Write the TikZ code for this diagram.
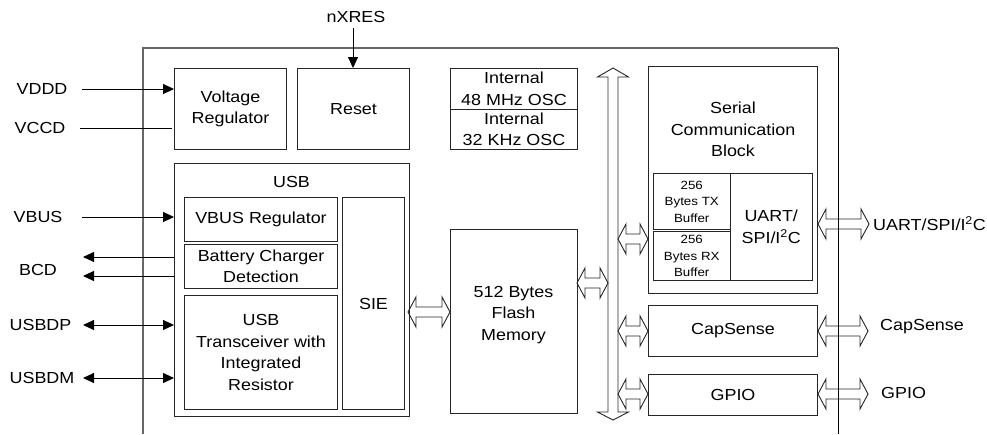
\documentclass[tikz,border=0pt]{standalone}
\usepackage{fontspec}
\setmainfont{Liberation Sans}[FakeStretch=1.12]
\usetikzlibrary{arrows.meta,calc}
\newcommand{\mainsz}{\fontsize{16}{21.5}\selectfont}
\newcommand{\smallsz}{\fontsize{11.9}{16.5}\selectfont}
% horizontal hollow double arrow between two coordinates
\newcommand{\hbusarrow}[2]{%
  \draw[hollow] let \p1=(#1), \p2=(#2) in
    (\x1,\y1) -- (\x1+8pt,\y1+15pt) -- (\x1+8pt,\y1+5pt) -- (\x2-8pt,\y2+5pt)
    -- (\x2-8pt,\y2+15pt) -- (\x2,\y2) -- (\x2-8pt,\y2-15pt) -- (\x2-8pt,\y2-5pt)
    -- (\x1+8pt,\y1-5pt) -- (\x1+8pt,\y1-15pt) -- cycle;}
\begin{document}
\begin{tikzpicture}[x=1pt,y=-1pt,
  box/.style={draw=black!85, line width=1pt, inner sep=0pt, align=center,
    anchor=north west, font=\mainsz},
  sbox/.style={box, font=\smallsz},
  txt/.style={inner sep=0pt, align=center, font=\mainsz},
  hollow/.style={draw=black!85, line width=0.9pt, line join=miter},
  sig/.style={line width=0.9pt, -{Triangle[length=11pt,width=10pt]}},
  dsig/.style={line width=0.9pt, {Triangle[length=11pt,width=10pt]}-{Triangle[length=11pt,width=10pt]}},
  lsig/.style={line width=0.9pt, {Triangle[length=11pt,width=10pt]}-},
  chip/.style={draw=black!60, line width=2pt},
]
\useasboundingbox (0,0) rectangle (987,434);

% chip outline
\coordinate (chipBL) at (143,434);
\coordinate (chipTL) at (143,48);
\coordinate (chipTR) at (838,48);
\coordinate (chipBR) at (838,434);
\draw[chip] (chipBL) -- (chipTL) -- (chipTR);
\draw[line width=0.9pt] (chipTR) -- (chipBR);

% top row
\node[box, minimum width=112pt, minimum height=81pt] (vreg) at (174,68) {Voltage\\Regulator};
\node[box, minimum width=112pt, minimum height=81pt] (reset) at (297,68) {Reset};
\node[box, minimum width=127pt, minimum height=41pt] (osc48) at (450,68) {Internal\\48 MHz OSC};
\node[box, minimum width=127pt, minimum height=40pt] (osc32) at (450,109) {Internal\\32 KHz OSC};

% USB block
\node[box, minimum width=235pt, minimum height=253pt] (usb) at (174,163) {};
\node[txt] (usblbl) at (291.5,182) {USB};
\node[box, minimum width=153pt, minimum height=44pt] (vbusreg) at (184,197) {VBUS Regulator};
\node[box, minimum width=153pt, minimum height=44pt] (bcdbox) at (184,244) {Battery Charger\\Detection};
\node[box, minimum width=153pt, minimum height=114pt] (xcvr) at (184,295) {USB\\Transceiver with\\Integrated\\Resistor};
\node[box, minimum width=62pt, minimum height=212pt] (sie) at (342,197) {SIE};

% flash
\node[box, minimum width=127pt, minimum height=184pt] (flash) at (450,229) {};
\node[txt] (flashtxt) at (513.5,315) {512 Bytes\\Flash\\Memory};

% serial communication block
\node[box, minimum width=169pt, minimum height=227pt] (scb) at (648,66) {};
\node[txt] (scbtxt) at (733,129.5) {Serial\\Communication\\Block};
\node[sbox, minimum width=76.5pt, minimum height=56pt] (txbuf) at (653,173) {256\\Bytes TX\\Buffer};
\node[sbox, minimum width=76.5pt, minimum height=49pt] (rxbuf) at (653,231) {256\\Bytes RX\\Buffer};
\node[box, minimum width=82.5pt, minimum height=107pt] (uart) at (729.5,173) {UART/\\SPI/I\textsuperscript{2}C};

\node[box, minimum width=169pt, minimum height=51pt] (caps) at (648,305) {CapSense};
\node[box, minimum width=169pt, minimum height=41pt] (gpio) at (648,374) {GPIO};

% vertical bus
\coordinate (bustop) at (613,68);
\coordinate (busbot) at (613,420);
\draw[hollow] let \p1=(bustop), \p2=(busbot) in
  (\x1,\y1) -- (\x1+15.5pt,\y1-9pt) -- (\x1+5pt,\y1-9pt) -- (\x2+5pt,\y2+8pt)
  -- (\x2+15.5pt,\y2+8pt) -- (\x2,\y2) -- (\x2-15.5pt,\y2+8pt) -- (\x2-5pt,\y2+8pt)
  -- (\x1-5pt,\y1-9pt) -- (\x1-15.5pt,\y1-9pt) -- cycle;

% internal hollow arrows
\coordinate (sfL) at (408,312);
\hbusarrow{sfL}{sfL -| flash.west}
\coordinate (fbL) at (577,283);
\coordinate (fbR) at (608,283);
\hbusarrow{fbL}{fbR}
\coordinate (brx) at (618,239);
\hbusarrow{brx}{brx -| scb.west}
\coordinate (bcs) at (618,331);
\hbusarrow{bcs}{bcs -| caps.west}
\coordinate (bgp) at (618,394);
\hbusarrow{bgp}{bgp -| gpio.west}

% external hollow arrows
\coordinate (euR) at (869,224);
\hbusarrow{euR -| scb.east}{euR}
\coordinate (ecR) at (868,331);
\hbusarrow{ecR -| caps.east}{ecR}
\coordinate (egR) at (868,394);
\hbusarrow{egR -| gpio.east}{egR}

\node[txt, anchor=west] (uartlbl) at (873,224) {UART/SPI/I\textsuperscript{2}C};
\node[txt, anchor=west] (capslbl) at (880,327) {CapSense};
\node[txt, anchor=west] (gpiolbl) at (881,393) {GPIO};

% left signals
\node[txt] (vdddlbl) at (42,89) {VDDD};
\node[txt] (vccdlbl) at (40,128) {VCCD};
\node[txt] (vbuslbl) at (38,217) {VBUS};
\node[txt] (bcdlbl) at (38,270) {BCD};
\node[txt] (dplbl) at (40.5,325) {USBDP};
\node[txt] (dmlbl) at (42,378) {USBDM};
\node[txt] (nxlbl) at (356,17) {nXRES};

\coordinate (vdddS) at (82,89);
\draw[sig] (vdddS) -- (vdddS -| vreg.west);
\coordinate (vccdS) at (80,128);
\draw[line width=0.9pt, shorten >=2pt] (vccdS) -- (vccdS -| vreg.west);
\coordinate (nxS) at (353,28);
\draw[sig] (nxS) -- (nxS |- reset.north);
\coordinate (vbusS) at (82,217);
\draw[sig] (vbusS) -- (vbusS -| usb.west);
\coordinate (bcdA) at (83,257);
\draw[lsig] (bcdA) -- (bcdA -| usb.west);
\coordinate (bcdB) at (83,276);
\draw[lsig] (bcdB) -- (bcdB -| usb.west);
\coordinate (dpS) at (83,325);
\draw[dsig] (dpS) -- (dpS -| usb.west);
\coordinate (dmS) at (83,378);
\draw[dsig] (dmS) -- (dmS -| usb.west);
\end{tikzpicture}
\end{document}
